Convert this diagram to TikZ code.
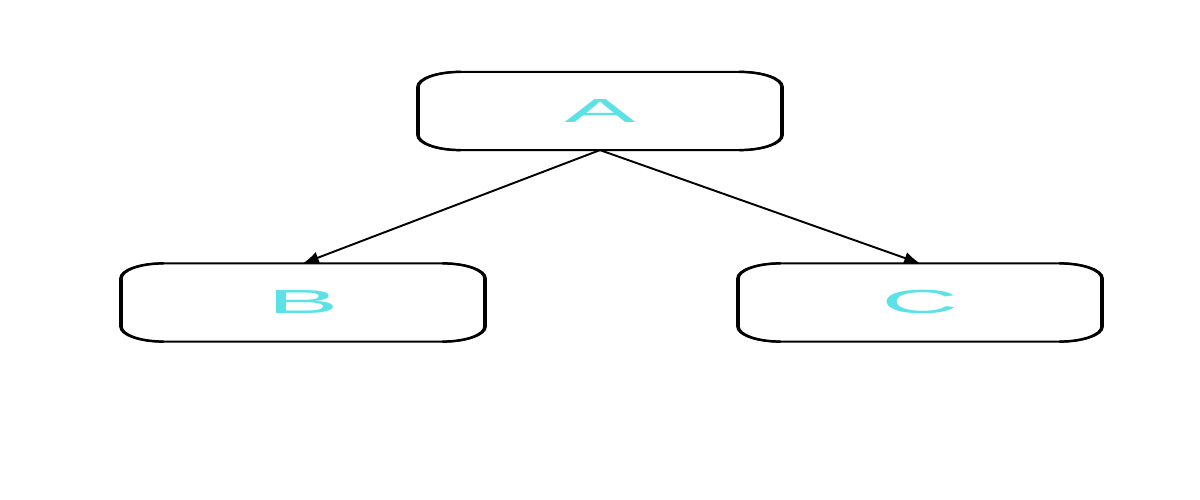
\documentclass[tikz,border=0pt]{standalone}
\usepackage{fontspec}
\setmainfont{Liberation Sans}
\usetikzlibrary{arrows.meta}
\definecolor{labelcyan}{HTML}{5CE1E6}
\newcommand\widetxt[1]{\scalebox{3.2}[1]{#1}}
\tikzset{
  box/.style={draw=none, minimum width=7.3cm, minimum height=1.55cm, inner sep=0pt,
    text=labelcyan, font=\fontsize{19}{23}\selectfont},
  border/.style={draw=black, line width=1.1pt},
  sideborder/.style={draw=black, line width=1.4pt},
  link/.style={line width=1.1pt, -{Latex[length=9pt,width=7pt]}}
}
\begin{document}
\begin{tikzpicture}
\useasboundingbox (0,0) rectangle (24,10);
\def\rx{0.84cm}\def\ry{0.3cm}
\node[box] (A) at (12.0,7.78) {\widetxt{A}};
\node[box] (B) at (6.06,3.95) {\widetxt{B}};
\node[box] (C) at (18.4,3.95) {\widetxt{C}};
\foreach \n in {A,B,C}{
  % outline with elliptical corners
  \draw[border] ([xshift=\rx]\n.north west) -- ([xshift=-\rx]\n.north east)
    arc[start angle=90,end angle=0,x radius=\rx,y radius=\ry]
    -- ([yshift=\ry]\n.south east)
    arc[start angle=0,end angle=-90,x radius=\rx,y radius=\ry]
    -- ([xshift=\rx]\n.south west)
    arc[start angle=270,end angle=180,x radius=\rx,y radius=\ry]
    -- ([yshift=-\ry]\n.north west)
    arc[start angle=180,end angle=90,x radius=\rx,y radius=\ry] -- cycle;
  % thicker left and right sides
  \draw[sideborder] ([xshift=\rx+0.8pt]\n.north west)
    arc[start angle=90,end angle=180,x radius=\rx,y radius=\ry]
    -- ([xshift=0.8pt,yshift=\ry]\n.south west)
    arc[start angle=180,end angle=270,x radius=\rx,y radius=\ry];
  \draw[sideborder] ([xshift=-\rx-0.8pt]\n.north east)
    arc[start angle=90,end angle=0,x radius=\rx,y radius=\ry]
    -- ([xshift=-0.8pt,yshift=\ry]\n.south east)
    arc[start angle=0,end angle=-90,x radius=\rx,y radius=\ry];
}
\draw[link] (A.south) -- (B.north);
\draw[link] (A.south) -- (C.north);
\end{tikzpicture}
\end{document}
